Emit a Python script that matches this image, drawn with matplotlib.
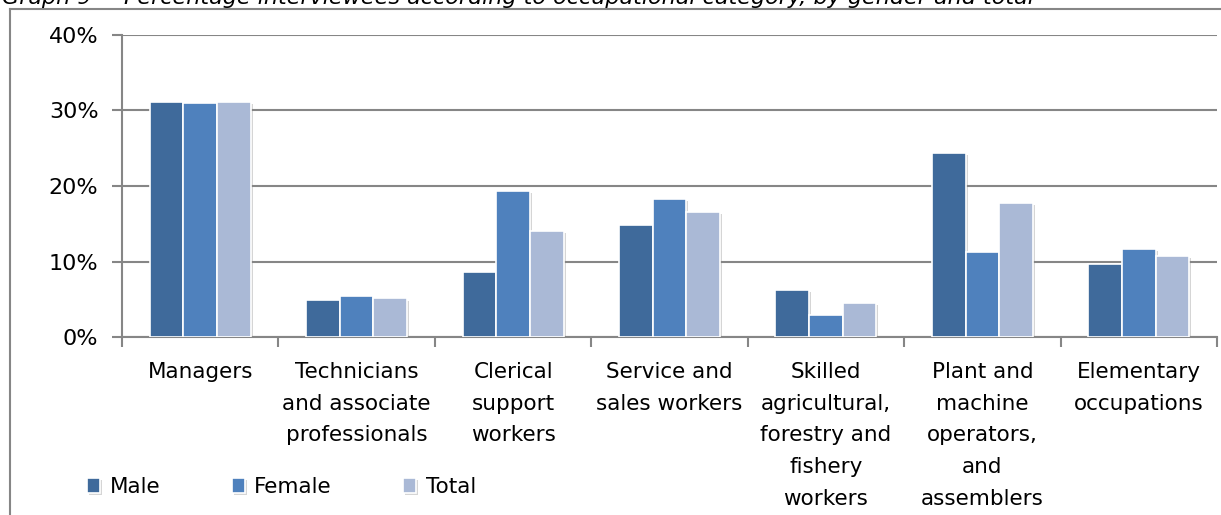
import matplotlib.pyplot as plt
import matplotlib.patheffects as pe
from matplotlib.lines import Line2D
import numpy as np

categories = ['Managers', 'Technicians\nand associate\nprofessionals', 'Clerical\nsupport\nworkers',
              'Service and\nsales workers', 'Skilled\nagricultural,\nforestry and\nfishery\nworkers',
              'Plant and\nmachine\noperators,\nand\nassemblers', 'Elementary\noccupations']
male = [31.1, 4.9, 8.6, 14.9, 6.2, 24.4, 9.7]
female = [31.0, 5.4, 19.3, 18.3, 2.9, 11.2, 11.7]
total = [31.1, 5.1, 14.0, 16.6, 4.5, 17.7, 10.7]

series = ['Male', 'Female', 'Total']
colors = ['#3F6A9B', '#4F81BD', '#AAB9D6']
grid_col = '#868686'

plt.rcParams['font.family'] = 'DejaVu Sans'
fig = plt.figure(figsize=(12.21, 5.15), dpi=100)
ax = fig.add_axes([122 / 1221, 178 / 515, 1095 / 1221, 302 / 515])

x = np.arange(len(categories))
w = 0.215
shadow = [pe.SimplePatchShadow(offset=(1.5, -1.5), shadow_rgbFace='#888888', alpha=0.35), pe.Normal()]
bars = []
for i, (vals, c) in enumerate(zip([male, female, total], colors)):
    b = ax.bar(x + (i - 1) * w, vals, w, color=c, edgecolor='white', linewidth=1.2,
               label=series[i], zorder=3)
    for p in b:
        p.set_path_effects(shadow)
    bars.append(b)

ax.set_xlim(-0.5, len(categories) - 0.5)
ax.set_ylim(0, 40)
ax.set_yticks([0, 10, 20, 30, 40])
ax.set_yticklabels(['0%', '10%', '20%', '30%', '40%'], fontsize=16)
ax.yaxis.grid(True, color=grid_col, linewidth=1.5, zorder=0)
ax.tick_params(axis='y', length=7, width=1.5, color=grid_col, pad=10)

# boundaries get the tick marks, centres get the labels
ax.set_xticks(np.arange(-0.5, len(categories), 1.0))
ax.set_xticklabels([])
ax.tick_params(axis='x', which='major', length=7, width=1.5, color=grid_col)
ax.set_xticks(x, minor=True)
ax.set_xticklabels(categories, minor=True, fontsize=15.5, linespacing=1.73, va='top')
ax.tick_params(axis='x', which='minor', length=0, pad=18)

for s in ['top', 'right']:
    ax.spines[s].set_visible(False)
for s in ['left', 'bottom']:
    ax.spines[s].set_color(grid_col)
    ax.spines[s].set_linewidth(1.5)

fig.legend(handles=bars, labels=series, loc='center left', bbox_to_anchor=(68 / 1221, 1 - 487 / 515),
           ncol=3, frameon=False, fontsize=15.5, handlelength=0.6, handleheight=0.75,
           handletextpad=0.45, columnspacing=3.3)

# outer frame and title
fig.add_artist(Line2D([10 / 1221, 1.0], [1 - 9 / 515] * 2, color=grid_col, linewidth=1.5))
fig.add_artist(Line2D([10 / 1221] * 2, [0, 1 - 9 / 515], color=grid_col, linewidth=1.5))
fig.text(2 / 1221, 1 - 4 / 515, 'Graph 9 \u2013  Percentage interviewees according to occupational category, by gender and total',
         fontsize=16, style='italic', va='baseline', ha='left')

fig.savefig('out.png', dpi=100)
